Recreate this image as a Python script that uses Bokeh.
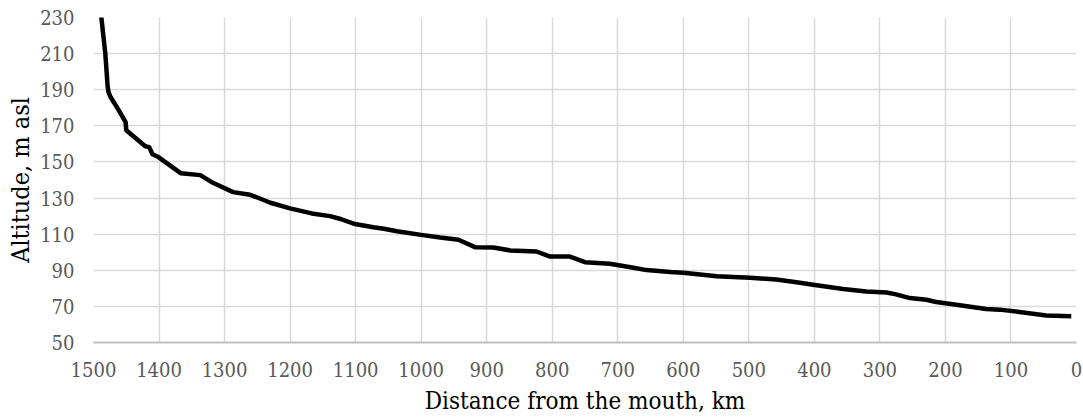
from bokeh.plotting import figure
from bokeh.models import Range1d, FixedTicker
from bokeh.embed import file_html
from bokeh.resources import INLINE

distance_km = [1492, 1488, 1485, 1482, 1480, 1478.5, 1477, 1474, 1462, 1451, 1450, 1421, 1415,
               1410, 1401, 1367, 1337, 1317, 1287, 1261, 1250, 1230, 1200, 1167, 1139, 1123,
               1101, 1073, 1057, 1037, 1000, 971, 943, 918, 890, 864, 824, 803, 773, 750, 712,
               676, 656, 620, 600, 549, 498, 458, 422, 402, 356, 321, 290, 277, 254, 229,
               214, 178, 138, 117, 87, 46, 8]
altitude_m = [245, 230, 220, 210, 200, 192, 188.5, 186, 179, 172, 167.6, 158.7, 158.2, 154.3,
              152.7, 143.8, 142.7, 138.3, 133.3, 131.8, 130.3, 127.4, 124.3, 121.5, 120.0,
              118.4, 115.6, 113.8, 113.0, 111.6, 109.6, 108.1, 106.9, 102.8, 102.6, 101.0,
              100.4, 97.6, 97.6, 94.5, 93.6, 91.4, 90.1, 89.0, 88.6, 86.7, 85.8, 84.9, 83.1,
              82.0, 79.6, 78.2, 77.7, 76.8, 74.6, 73.7, 72.4, 70.6, 68.6, 68.2, 66.9, 65.0,
              64.5]

x_ticks = list(range(0, 1501, 100))
y_ticks = list(range(50, 231, 20))

FONT = "DejaVu Serif Condensed"

p = figure(width=1083, height=419, output_backend="svg", toolbar_location=None,
           x_range=Range1d(1500, 0), y_range=Range1d(50, 230),
           min_border_left=93, min_border_right=7, min_border_top=17, min_border_bottom=77)
p.outline_line_color = None
p.background_fill_color = "white"

p.line(distance_km, altitude_m, line_width=4.5, line_color="black", line_join="round")

for ax in (p.xaxis[0], p.yaxis[0]):
    ax.major_tick_line_color = None
    ax.minor_tick_line_color = None
    ax.major_label_text_font = FONT
    ax.major_label_text_font_size = "20px"
    ax.major_label_text_color = "#595959"
    ax.axis_label_text_font = FONT
    ax.axis_label_text_font_style = "normal"
    ax.axis_label_text_color = "black"

p.xaxis.axis_label_text_font_size = "24px"
p.yaxis.axis_label_text_font_size = "25px"
p.xaxis.ticker = FixedTicker(ticks=x_ticks)
p.yaxis.ticker = FixedTicker(ticks=y_ticks)
p.xaxis.axis_label = "Distance from the mouth, km"
p.yaxis.axis_label = "Altitude, m asl"
p.xaxis.axis_line_color = "#bfbfbf"
p.xaxis.axis_line_width = 2
p.yaxis.axis_line_color = None
p.xaxis.major_label_standoff = 13
p.xaxis.axis_label_standoff = 7
p.yaxis.major_label_standoff = 13
p.yaxis.axis_label_standoff = 2

p.xgrid.ticker = FixedTicker(ticks=x_ticks)
p.ygrid.ticker = FixedTicker(ticks=y_ticks)
p.xgrid.grid_line_color = "#d9d9d9"
p.ygrid.grid_line_color = "#d9d9d9"
p.xgrid.grid_line_width = 1.5
p.ygrid.grid_line_width = 1.5

open("out.html", "w").write(file_html(p, INLINE))
